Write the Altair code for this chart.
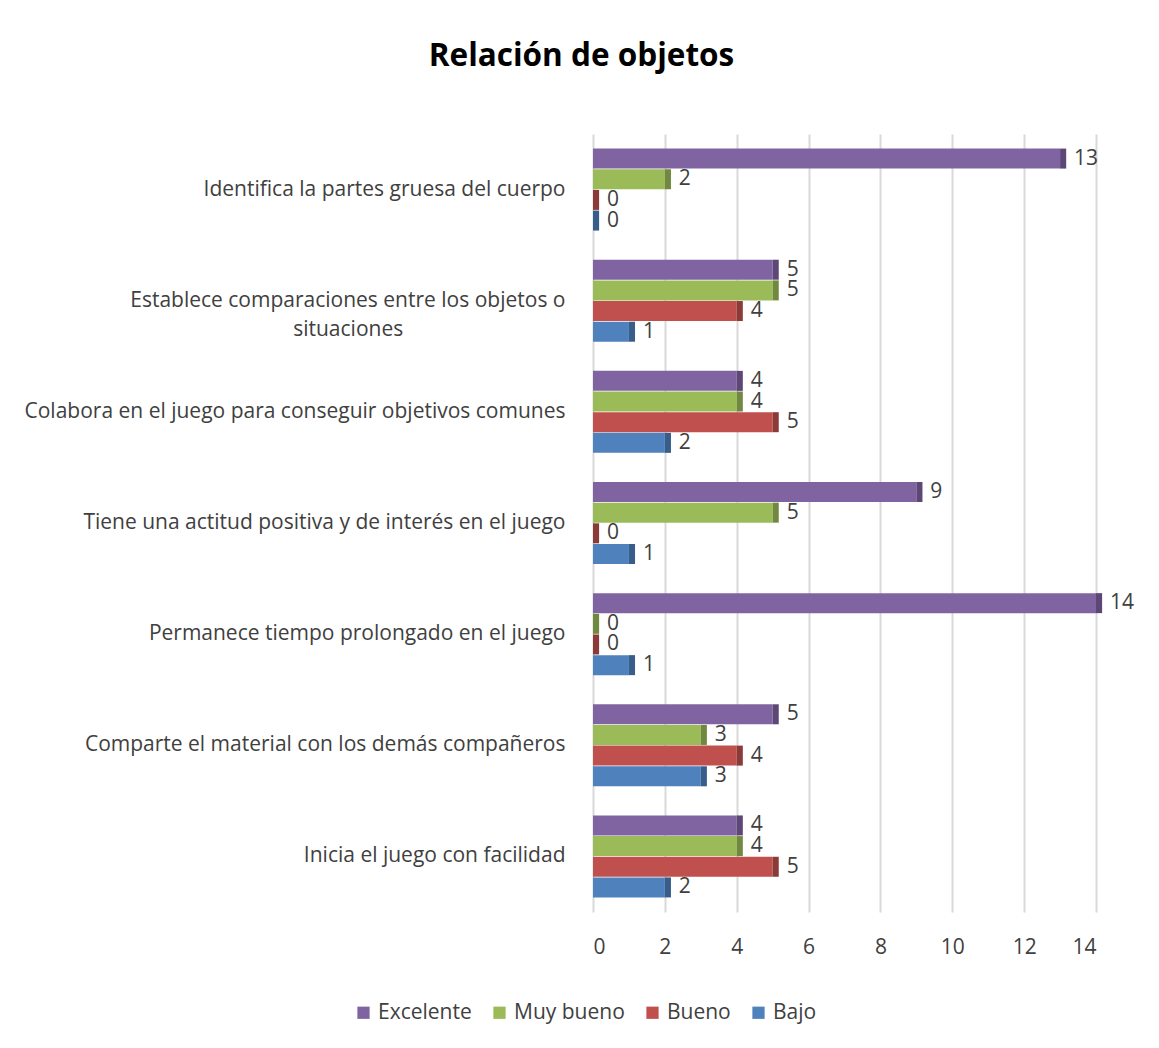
import altair as alt
import pandas as pd

PAD = "\u00a0" * 27 + "\u2800"
categories = [
    "Identifica la partes gruesa del cuerpo",
    "Establece comparaciones entre los objetos o|situaciones" + PAD,
    "Colabora en el juego para conseguir objetivos comunes",
    "Tiene una actitud positiva y de interés en el juego",
    "Permanece tiempo prolongado en el juego",
    "Comparte el material con los demás compañeros",
    "Inicia el juego con facilidad",
]
series = ["Excelente", "Muy bueno", "Bueno", "Bajo"]
excelente = [13, 5, 4, 9, 14, 5, 4]
muy_bueno = [2, 5, 4, 5, 0, 3, 4]
bueno = [0, 4, 5, 0, 0, 4, 5]
bajo = [0, 1, 2, 1, 1, 3, 2]
colors = ["#8064A2", "#9BBB59", "#C0504D", "#4F81BD"]
dark_colors = ["#5C4776", "#71893F", "#8C3A38", "#385D8A"]

rows = []
for vals, s in zip([excelente, muy_bueno, bueno, bajo], series):
    for c, v in zip(categories, vals):
        rows.append({"cat": c, "serie": s, "valor": v})
df = pd.DataFrame(rows)

FONT = "Open Sans"
FS = 21

y = alt.Y("cat:N", sort=categories, title=None,
          scale=alt.Scale(paddingInner=0.26, paddingOuter=0.13),
          axis=alt.Axis(labelExpr="split(datum.label, '|')", labelFontSize=FS,
                        labelColor="#404040", labelFont=FONT, labelPadding=28,
                        labelLineHeight=29, ticks=False, domain=False, grid=False,
                        labelLimit=800))
yoff = alt.YOffset("serie:N", sort=series, scale=alt.Scale(paddingInner=0.02))
x = alt.X("valor:Q", title=None,
          scale=alt.Scale(domain=[0, 14], nice=False),
          axis=alt.Axis(values=list(range(0, 15, 2)), labelFontSize=FS,
                        labelColor="#404040", labelFont=FONT, labelPadding=24,
                        ticks=False, domain=False, grid=True, gridColor="#d9d9d9",
                        gridWidth=2))

base = alt.Chart(df)

bars = base.mark_bar(size=20).encode(
    x=x, y=y, yOffset=yoff,
    color=alt.Color("serie:N", sort=series,
                    scale=alt.Scale(domain=series, range=colors),
                    legend=alt.Legend(title=None, orient="none", direction="horizontal",
                                      legendX=-240, legendY=868, symbolType="square",
                                      symbolSize=150, symbolStrokeWidth=0,
                                      labelFontSize=FS, labelColor="#404040",
                                      labelFont=FONT, columnPadding=17,
                                      symbolOffset=0)),
)

side = base.transform_calculate(fin="datum.valor + 0.17").mark_bar(size=20).encode(
    x=alt.X("valor:Q", title=None),
    x2="fin:Q",
    y=alt.Y("cat:N", sort=categories, title=None),
    yOffset=alt.YOffset("serie:N", sort=series),
    color=alt.Color("serie:N", sort=series,
                    scale=alt.Scale(domain=series, range=dark_colors), legend=None),
)

labels = base.mark_text(align="left", baseline="middle", dx=14,
                        fontSize=FS, color="#404040", font=FONT).encode(
    x=alt.X("valor:Q", title=None),
    y=alt.Y("cat:N", sort=categories, title=None),
    yOffset=alt.YOffset("serie:N", sort=series),
    text="valor:Q")

chart = alt.layer(bars, side, labels).resolve_scale(color="independent").properties(
    width=503, height=778,
    background="white",
    title=alt.Title("Relación de objetos", fontSize=31.5, font=FONT, fontWeight="bold",
                    color="#000000", anchor="middle", dx=-263, offset=62),
    autosize=alt.AutoSizeParams(type="none"),
    padding={"left": 585, "top": 126, "right": 55, "bottom": 120},
).configure_view(stroke=None, strokeWidth=0)

chart.save("out.html", embed_options={"renderer": "svg", "actions": False})
